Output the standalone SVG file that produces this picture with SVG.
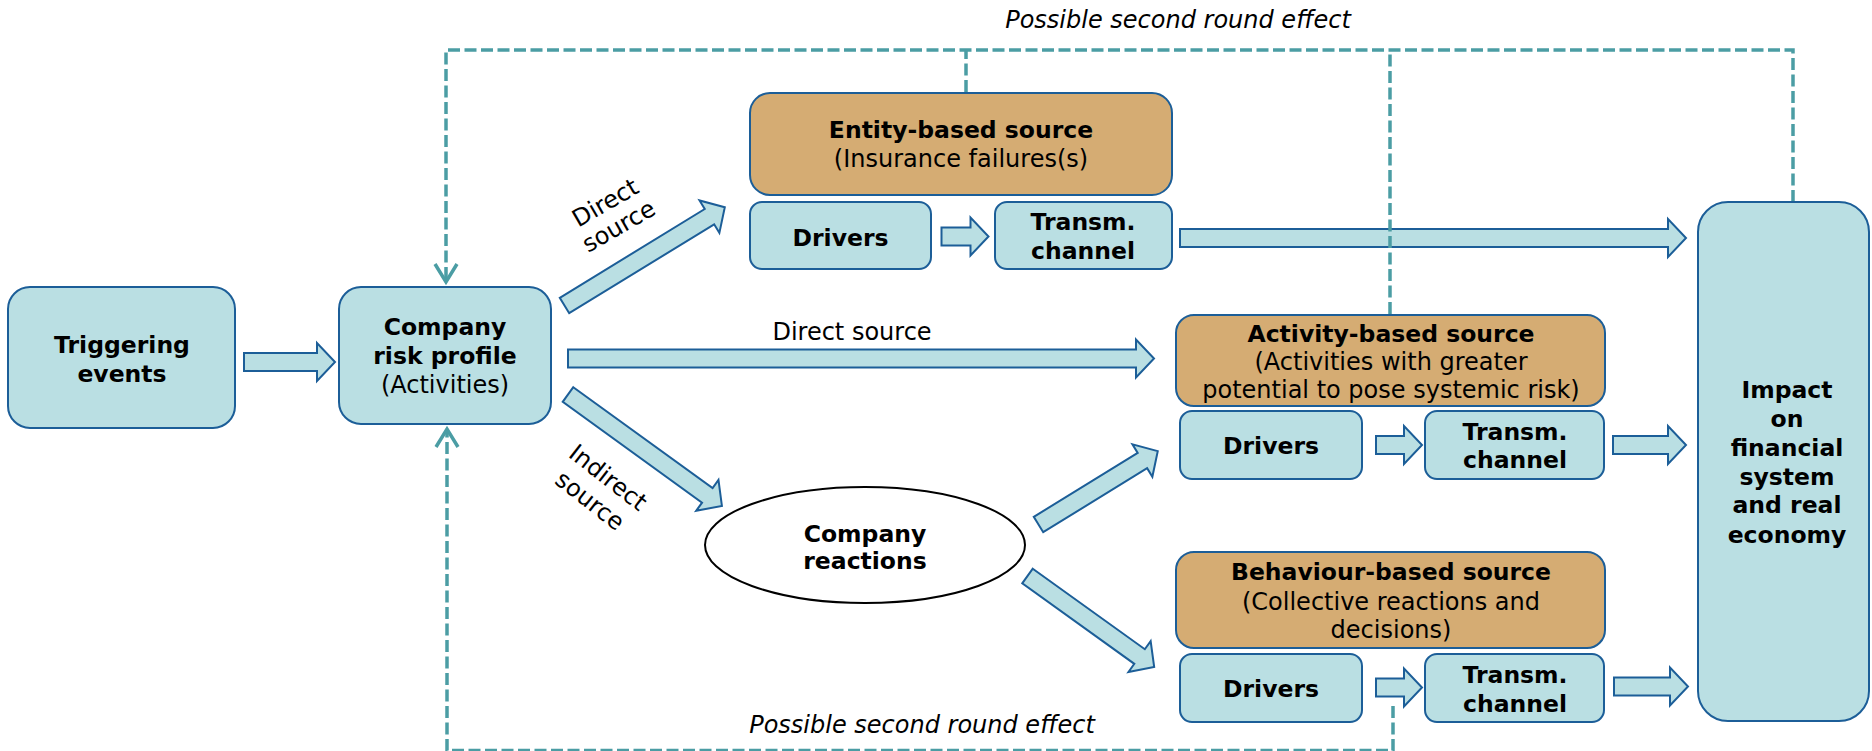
<svg xmlns="http://www.w3.org/2000/svg" width="1872" height="751" viewBox="0 0 1872 751">
<style>
  .bx{fill:#BADFE3;stroke:#1C5E98;stroke-width:2}
  .tan{fill:#D5AC73;stroke:#1C5E98;stroke-width:2}
  .ar{fill:#BADFE3;stroke:#1C5E98;stroke-width:2;stroke-linejoin:miter}
  .dash{fill:none;stroke:#4B9DA4;stroke-width:3.5;stroke-dasharray:12 4.5}
  text{font-family:"DejaVu Sans",Verdana,sans-serif;fill:#000;text-anchor:middle}
  .b{font-weight:bold;font-size:23.5px}
  .r{font-size:24px}
  .i{font-size:24px;font-style:italic}
</style>
<defs>
  <marker id="chev" viewBox="-24 -14 28 28" refX="0" refY="0" markerWidth="28" markerHeight="28" orient="auto" markerUnits="userSpaceOnUse">
    <path d="M-18,-11 L0,0 L-18,11" fill="none" stroke="#4B9DA4" stroke-width="3.5"/>
  </marker>
</defs>

<g id="connectors">
  <path class="ar" transform="translate(244,362)" d="M0,-9 H73 V-19 L91,0 L73,19 V9 H0 Z"/>
  <path class="ar" transform="translate(564.5,305.5) rotate(-31.5)" d="M0,-9 H170 V-19 L188,0 L170,19 V9 H0 Z"/>
  <path class="ar" transform="translate(568,358.5)" d="M0,-9 H568 V-19 L586,0 L568,19 V9 H0 Z"/>
  <path class="ar" transform="translate(568,394.5) rotate(35.9)" d="M0,-9 H172 V-19 L190,0 L172,19 V9 H0 Z"/>
  <path class="ar" transform="translate(941.5,236.5)" d="M0,-9 H29 V-19 L47,0 L29,19 V9 H0 Z"/>
  <path class="ar" transform="translate(1180,238)" d="M0,-9 H488 V-19 L506,0 L488,19 V9 H0 Z"/>
  <path class="ar" transform="translate(1038.5,524.5) rotate(-31.6)" d="M0,-9 H122 V-19 L140,0 L122,19 V9 H0 Z"/>
  <path class="ar" transform="translate(1027.5,576) rotate(35.7)" d="M0,-9 H138 V-19 L156,0 L138,19 V9 H0 Z"/>
  <path class="ar" transform="translate(1376,445)" d="M0,-9 H28 V-19 L46,0 L28,19 V9 H0 Z"/>
  <path class="ar" transform="translate(1613,445)" d="M0,-9 H55 V-19 L73,0 L55,19 V9 H0 Z"/>
  <path class="ar" transform="translate(1376,687.5)" d="M0,-9 H28 V-19 L46,0 L28,19 V9 H0 Z"/>
  <path class="ar" transform="translate(1614,686.5)" d="M0,-9 H56 V-19 L74,0 L56,19 V9 H0 Z"/>

  <path class="dash" d="M1793,202 V50 H446 V282" marker-end="url(#chev)"/>
  <path class="dash" d="M966,92 V50"/>
  <path class="dash" d="M1390,314 V50"/>
  <path class="dash" d="M1393,706 V750.5 H447 V429" marker-end="url(#chev)"/>

  <text class="r" x="852" y="340">Direct source</text>
  <g transform="translate(616,221.5) rotate(-30)">
    <text class="r" x="0" y="-13.5">Direct</text>
    <text class="r" x="0" y="13.5">source</text>
  </g>
  <g transform="translate(594,495.5) rotate(38)">
    <text class="r" x="0" y="-14.7">Indirect</text>
    <text class="r" x="0" y="14.7">source</text>
  </g>
  <text class="i" x="1178" y="28">Possible second round effect</text>
  <text class="i" x="922" y="733">Possible second round effect</text>
</g>

<g id="triggering">
  <rect class="bx" x="8" y="287" width="227" height="141" rx="22"/>
  <text class="b" x="122" y="353">Triggering</text>
  <text class="b" x="122" y="382">events</text>
</g>

<g id="company">
  <rect class="bx" x="339" y="287" width="212" height="137" rx="22"/>
  <text class="b" x="445" y="335">Company</text>
  <text class="b" x="445" y="364">risk profile</text>
  <text class="r" x="445" y="393">(Activities)</text>
</g>

<g id="entity">
  <rect class="tan" x="750" y="93" width="422" height="102" rx="20"/>
  <text class="b" x="961" y="138">Entity-based source</text>
  <text class="r" x="961" y="167">(Insurance failures(s)</text>
</g>
<g id="entity-drivers">
  <rect class="bx" x="750" y="202" width="181" height="67" rx="12"/>
  <text class="b" x="840.5" y="246">Drivers</text>
</g>
<g id="entity-transm">
  <rect class="bx" x="995" y="202" width="177" height="67" rx="12"/>
  <text class="b" x="1083" y="230">Transm.</text>
  <text class="b" x="1083" y="259">channel</text>
</g>

<g id="reactions">
  <ellipse cx="865" cy="545" rx="160" ry="58" fill="#FFFFFF" stroke="#000000" stroke-width="2"/>
  <text class="b" x="865" y="542">Company</text>
  <text class="b" x="865" y="569">reactions</text>
</g>

<g id="activity">
  <rect class="tan" x="1176" y="315" width="429" height="91" rx="18"/>
  <text class="b" x="1391" y="342">Activity-based source</text>
  <text class="r" x="1391" y="370">(Activities with greater</text>
  <text class="r" x="1391" y="398">potential to pose systemic risk)</text>
</g>
<g id="activity-drivers">
  <rect class="bx" x="1180" y="411" width="182" height="68" rx="12"/>
  <text class="b" x="1271" y="454">Drivers</text>
</g>
<g id="activity-transm">
  <rect class="bx" x="1425" y="411" width="179" height="68" rx="12"/>
  <text class="b" x="1515" y="440">Transm.</text>
  <text class="b" x="1515" y="468">channel</text>
</g>

<g id="behaviour">
  <rect class="tan" x="1176" y="552" width="429" height="96" rx="18"/>
  <text class="b" x="1391" y="580">Behaviour-based source</text>
  <text class="r" x="1391" y="610">(Collective reactions and</text>
  <text class="r" x="1391" y="638">decisions)</text>
</g>
<g id="behaviour-drivers">
  <rect class="bx" x="1180" y="654" width="182" height="68" rx="12"/>
  <text class="b" x="1271" y="697">Drivers</text>
</g>
<g id="behaviour-transm">
  <rect class="bx" x="1425" y="654" width="179" height="68" rx="12"/>
  <text class="b" x="1515" y="683">Transm.</text>
  <text class="b" x="1515" y="712">channel</text>
</g>

<g id="impact">
  <rect class="bx" x="1698" y="202" width="171" height="519" rx="30"/>
  <text class="b" x="1787" y="398">Impact</text>
  <text class="b" x="1787" y="427">on</text>
  <text class="b" x="1787" y="456">financial</text>
  <text class="b" x="1787" y="485">system</text>
  <text class="b" x="1787" y="513">and real</text>
  <text class="b" x="1787" y="543">economy</text>
</g>
</svg>
